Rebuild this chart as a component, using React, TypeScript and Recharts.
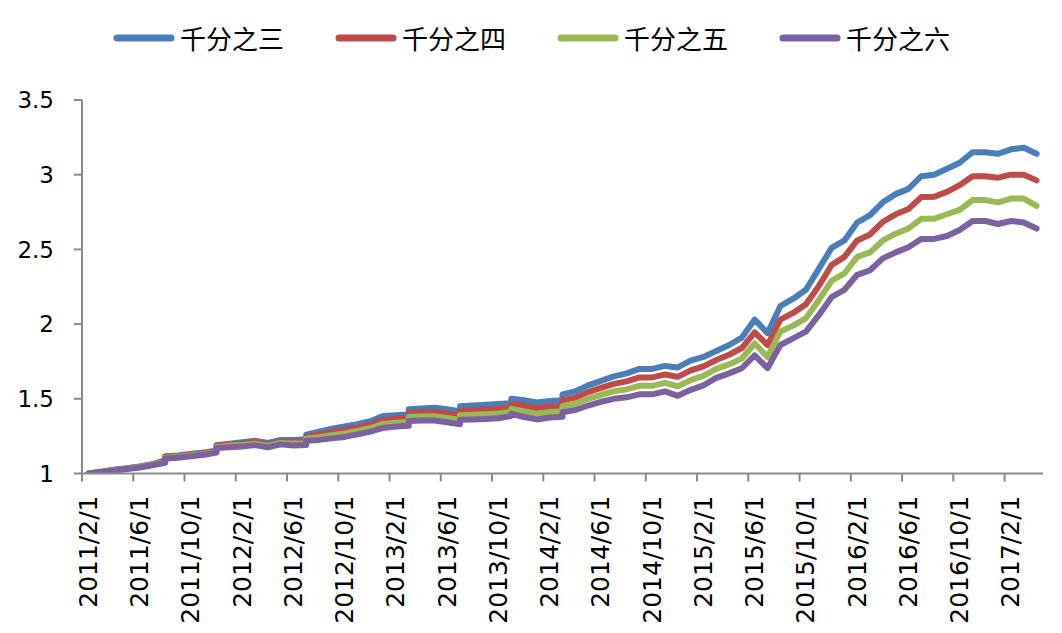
import React from 'react';
import { LineChart, Line, XAxis, YAxis, Legend } from 'recharts';

// month index (0 = 2011/2/1); repeated index = jump inside that month
const monthPos = [
  0, 1, 2, 3, 4, 5, 6, 6, 7, 8, 9, 10, 10, 11, 12, 13, 14, 15, 16, 17, 17,
  18, 19, 20, 21, 22, 23, 24, 25, 25, 26, 27, 28, 29, 29, 30, 31, 32, 33, 33,
  34, 35, 36, 37, 37, 38, 39, 40, 41, 42, 43, 44, 45, 46, 47, 48, 49, 50, 51,
  52, 53, 54, 55, 56, 57, 58, 59, 60, 61, 62, 63, 64, 65, 66, 67, 68, 69, 70,
  71, 72, 73, 74,
];

// tick marks sit on the left edge of each labelled month
const tickBounds = [-0.5, 3.5, 7.5, 11.5, 15.5, 19.5, 23.5, 27.5, 31.5, 35.5, 39.5, 43.5, 47.5, 51.5, 55.5, 59.5, 63.5, 67.5, 71.5];
const tickLabels = [
  '2011/2/1', '2011/6/1', '2011/10/1', '2012/2/1', '2012/6/1', '2012/10/1',
  '2013/2/1', '2013/6/1', '2013/10/1', '2014/2/1', '2014/6/1', '2014/10/1',
  '2015/2/1', '2015/6/1', '2015/10/1', '2016/2/1', '2016/6/1', '2016/10/1', '2017/2/1',
];
const yTicks = [1, 1.5, 2, 2.5, 3, 3.5];

const seriesNames = ['千分之三', '千分之四', '千分之五', '千分之六'];
const seriesKeys = ['s3', 's4', 's5', 's6'];
const colors = ['#4a7ebb', '#be4b48', '#98b954', '#7d60a0'];

const s3 = [
  1.000, 1.010, 1.025, 1.035, 1.047, 1.062, 1.090, 1.115, 1.120, 1.130, 1.140, 1.155, 1.190,
  1.200, 1.210, 1.220, 1.205, 1.225, 1.225, 1.230, 1.260, 1.280, 1.300, 1.315, 1.330, 1.350,
  1.385, 1.390, 1.395, 1.430, 1.435, 1.440, 1.430, 1.415, 1.450, 1.455, 1.460, 1.465, 1.470,
  1.500, 1.490, 1.475, 1.485, 1.490, 1.530,
  1.550, 1.590, 1.620, 1.650, 1.670, 1.700, 1.700, 1.720, 1.710, 1.755, 1.780, 1.820, 1.860,
  1.910, 2.030, 1.940, 2.120, 2.170, 2.230, 2.370, 2.510, 2.560, 2.680, 2.730, 2.815, 2.870,
  2.905, 2.990, 3.000, 3.040, 3.080, 3.150, 3.150, 3.140, 3.170, 3.180, 3.140,
];
const s4 = [
  1.000, 1.010, 1.023, 1.033, 1.045, 1.060, 1.085, 1.110, 1.115, 1.125, 1.135, 1.150, 1.185,
  1.193, 1.200, 1.210, 1.195, 1.215, 1.213, 1.217, 1.247, 1.262, 1.278, 1.292, 1.307, 1.327,
  1.358, 1.365, 1.370, 1.404, 1.408, 1.412, 1.401, 1.387, 1.420, 1.424, 1.428, 1.433, 1.442,
  1.467, 1.453, 1.437, 1.448, 1.453, 1.490,
  1.508, 1.545, 1.573, 1.600, 1.617, 1.643, 1.643, 1.663, 1.647, 1.690, 1.717, 1.760, 1.795,
  1.840, 1.945, 1.860, 2.030, 2.075, 2.133, 2.255, 2.395, 2.450, 2.560, 2.600, 2.685, 2.735,
  2.770, 2.850, 2.852, 2.885, 2.930, 2.990, 2.990, 2.980, 3.000, 3.000, 2.962,
];
const s5 = [
  1.000, 1.010, 1.022, 1.032, 1.043, 1.058, 1.080, 1.105, 1.110, 1.120, 1.130, 1.145, 1.178,
  1.185, 1.190, 1.200, 1.185, 1.205, 1.200, 1.203, 1.233, 1.243, 1.257, 1.268, 1.285, 1.303,
  1.332, 1.340, 1.345, 1.378, 1.382, 1.383, 1.372, 1.358, 1.390, 1.393, 1.397, 1.402, 1.413,
  1.433, 1.415, 1.400, 1.412, 1.417, 1.450,
  1.467, 1.500, 1.527, 1.550, 1.563, 1.587, 1.587, 1.607, 1.583, 1.625, 1.653, 1.700, 1.730,
  1.770, 1.870, 1.780, 1.950, 1.990, 2.040, 2.160, 2.290, 2.340, 2.450, 2.480, 2.560, 2.605,
  2.640, 2.705, 2.705, 2.735, 2.765, 2.830, 2.830, 2.815, 2.840, 2.840, 2.792,
];
const s6 = [
  1.000, 1.010, 1.020, 1.030, 1.040, 1.055, 1.072, 1.100, 1.105, 1.115, 1.125, 1.140, 1.170,
  1.175, 1.180, 1.190, 1.175, 1.195, 1.188, 1.190, 1.220, 1.225, 1.235, 1.245, 1.262, 1.280,
  1.305, 1.315, 1.320, 1.352, 1.355, 1.355, 1.343, 1.330, 1.360, 1.362, 1.365, 1.370, 1.385,
  1.400, 1.378, 1.362, 1.375, 1.380, 1.410,
  1.425, 1.455, 1.480, 1.500, 1.510, 1.530, 1.530, 1.550, 1.520, 1.560, 1.590, 1.640, 1.670,
  1.705, 1.790, 1.705, 1.860, 1.905, 1.950, 2.060, 2.180, 2.230, 2.330, 2.360, 2.440, 2.480,
  2.515, 2.570, 2.570, 2.590, 2.630, 2.690, 2.690, 2.670, 2.690, 2.680, 2.640,
];

const data = monthPos.map((m, k) => ({ m, s3: s3[k], s4: s4[k], s5: s5[k], s6: s6[k] }));

const CHART_W = 1062;
const CHART_H = 633;
const Y_AXIS_W = 82;
const MARGIN_R = 19;
const X_DOMAIN: [number, number] = [-0.5, 74.5];
// half a month in pixels: labels sit in the middle of their month
const HALF_MONTH = (CHART_W - Y_AXIS_W - MARGIN_R) / (X_DOMAIN[1] - X_DOMAIN[0]) / 2;

const AXIS = '#898989';
const NUM_FONT = '"DejaVu Sans", sans-serif';
const CJK_FONT = '"Noto Sans CJK SC", sans-serif';

function XTick(props: any) {
  const { x, y, payload } = props;
  const idx = tickBounds.indexOf(payload.value);
  const label = idx >= 0 ? tickLabels[idx] : '';
  const lx = x + HALF_MONTH;
  const ty = y + 14;
  return (
    <text
      x={lx}
      y={ty}
      transform={`rotate(-90 ${lx} ${ty})`}
      textAnchor="end"
      dominantBaseline="central"
      fontSize={25}
      fontFamily={NUM_FONT}
      fill="#000"
    >
      {label}
    </text>
  );
}

const renderLegend = () => (
  <div style={{ position: 'relative', width: CHART_W, height: 100 }}>
    {seriesNames.map((n, i) => (
      <div
        key={n}
        style={{
          position: 'absolute',
          left: 113 + i * 222,
          top: 20,
          height: 36,
          display: 'flex',
          alignItems: 'center',
        }}
      >
        <svg width={62} height={12} style={{ display: 'block' }}>
          <line x1={4} y1={6} x2={58} y2={6} stroke={colors[i]} strokeWidth={7} strokeLinecap="round" />
        </svg>
        <span
          style={{
            marginLeft: 5,
            fontFamily: CJK_FONT,
            fontSize: 26,
            lineHeight: '36px',
            color: '#000',
            whiteSpace: 'nowrap',
          }}
        >
          {n}
        </span>
      </div>
    ))}
  </div>
);

export default function App() {
  return (
    <div style={{ position: 'absolute', left: 0, top: 0, width: CHART_W, height: CHART_H, background: '#fff' }}>
      <LineChart
        width={CHART_W}
        height={CHART_H}
        data={data}
        margin={{ top: 0, right: MARGIN_R, bottom: 9.5, left: 0 }}
      >
        <Legend
          verticalAlign="top"
          align="left"
          content={renderLegend}
          wrapperStyle={{ top: 0, left: 0, width: CHART_W, height: 100, margin: 0, padding: 0 }}
        />
        <XAxis
          dataKey="m"
          type="number"
          domain={X_DOMAIN}
          allowDataOverflow
          ticks={tickBounds}
          interval={0}
          tick={<XTick />}
          tickLine={{ stroke: AXIS, strokeWidth: 2 }}
          tickSize={8}
          tickMargin={0}
          axisLine={{ stroke: AXIS, strokeWidth: 2 }}
          height={150}
        />
        <YAxis
          domain={[1, 3.5]}
          allowDataOverflow
          ticks={yTicks}
          interval={0}
          width={Y_AXIS_W}
          tickSize={8}
          tickMargin={20}
          axisLine={{ stroke: AXIS, strokeWidth: 2 }}
          tickLine={{ stroke: AXIS, strokeWidth: 2 }}
          tick={{ fill: '#000', fontSize: 23, fontFamily: NUM_FONT }}
        />
        {seriesKeys.map((k, i) => (
          <Line
            key={k}
            type="linear"
            dataKey={k}
            name={seriesNames[i]}
            stroke={colors[i]}
            strokeWidth={6}
            strokeLinejoin="round"
            strokeLinecap="round"
            dot={false}
            activeDot={false}
            isAnimationActive={false}
          />
        ))}
      </LineChart>
    </div>
  );
}
